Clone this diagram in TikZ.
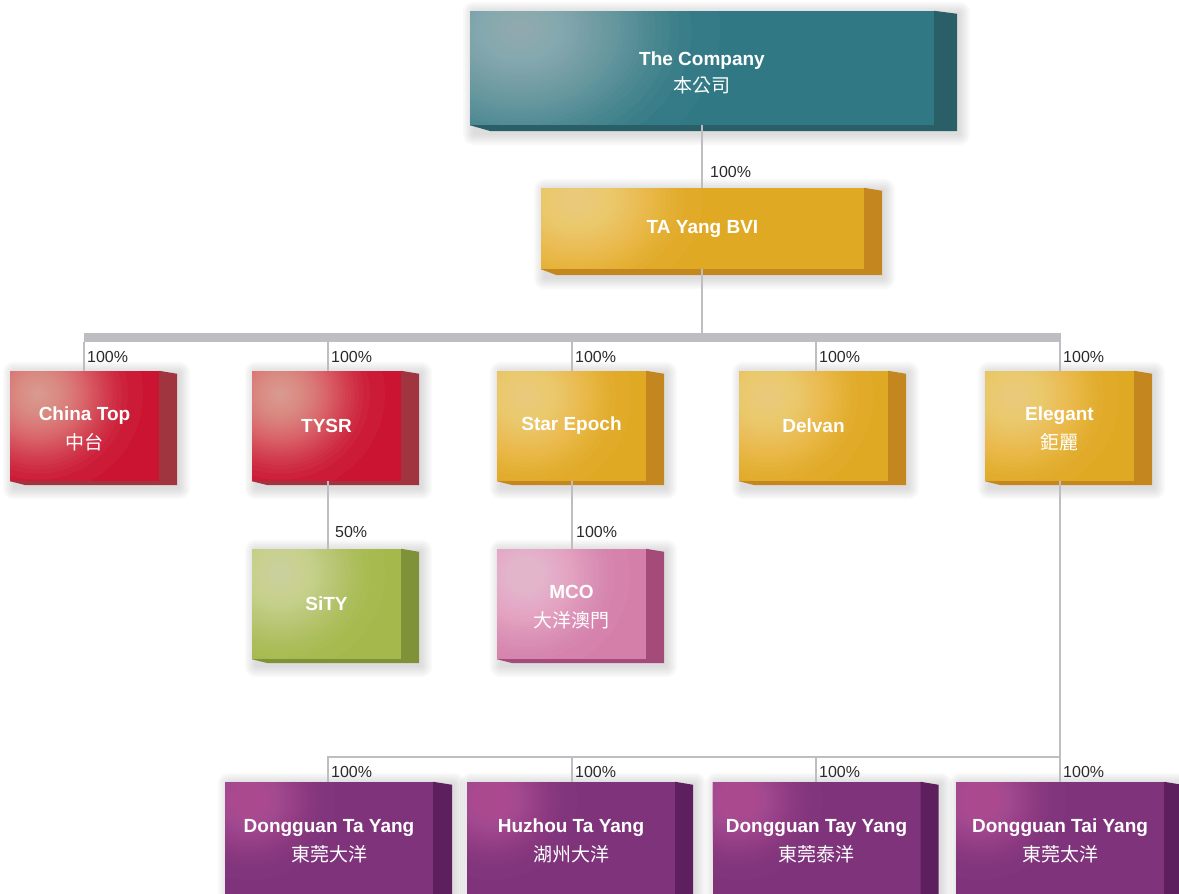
\documentclass[tikz,border=0pt]{standalone}
\usepackage{fontspec}
\setmainfont{Liberation Sans}
\newfontfamily\cjk{Noto Sans CJK TC}
\definecolor{tealF}{HTML}{2F7884}\definecolor{tealS}{HTML}{2B5F67}\definecolor{tealH}{HTML}{A3BCC1}
\definecolor{goldF}{HTML}{E0A924}\definecolor{goldS}{HTML}{C4861E}\definecolor{goldH}{HTML}{FDDC8E}
\definecolor{redF}{HTML}{CB1431}\definecolor{redS}{HTML}{A0353F}\definecolor{redH}{HTML}{ECB0A0}
\definecolor{grnF}{HTML}{A4B84C}\definecolor{grnS}{HTML}{7F9239}\definecolor{grnH}{HTML}{DCE3AE}
\definecolor{pnkF}{HTML}{D47FAA}\definecolor{pnkS}{HTML}{A44B7A}\definecolor{pnkH}{HTML}{F6C8DD}
\definecolor{purF}{HTML}{7E337B}\definecolor{purS}{HTML}{5D1F5D}\definecolor{purH}{HTML}{BE5CA2}
\definecolor{lineC}{HTML}{BDBDC2}
\definecolor{labC}{HTML}{2A2A2A}
\pgfdeclarelayer{bg}
\pgfsetlayers{bg,main}
\newcommand\up[1]{\rule{0pt}{#1pt}}
\newcommand\zh[1]{{\cjk\mdseries #1}}
\newcommand\boxsides[4]{% name, side colour, depth x, depth y
  \begin{pgfonlayer}{bg}
  \foreach \s in {1,3,5,7,9,11}{
    \fill[black,opacity=0.022,rounded corners=\s pt]
      ([xshift={4pt-\s pt},yshift={\s pt-2pt}]#1.north west) rectangle
      ([xshift={#3pt+\s pt+2pt},yshift={-#4pt-\s pt-3pt}]#1.south east);}
  \end{pgfonlayer}
  \fill[#2] (#1.north east) -- ++(#3,3) -- ([xshift=#3pt,yshift=-#4pt]#1.south east)
    -- ([xshift=#3pt-2pt,yshift=-#4pt]#1.south west) -- (#1.south west) -- (#1.south east) -- cycle;}
\begin{document}
\begin{tikzpicture}[x=1pt,y=-1pt,
  cbox/.style n args={6}{rectangle, inner sep=0pt, fill=#1, text=white, align=center,
     font=\fontsize{19}{29}\selectfont\bfseries,
     path picture={\foreach \j in {0,...,47}{\fill[#2,opacity=0.052]
        ([shift={(#3,#4)}]path picture bounding box.north west)
        ellipse [x radius={#5pt*(1-sqrt(\j/48))}, y radius={#6pt*(1-sqrt(\j/48))}];}}},
  tealbox/.style={cbox={tealF}{tealH}{50}{19}{200}{155}, minimum width=464pt, minimum height=114pt, font=\fontsize{19}{27}\selectfont\bfseries},
  goldbig/.style={cbox={goldF}{goldH}{36}{13}{125}{100}, minimum width=323pt, minimum height=81pt},
  midbox/.style={minimum width=149pt, minimum height=110pt},
  redbox/.style={cbox={redF}{redH}{28}{23}{105}{100}, midbox},
  goldbox/.style={cbox={goldF}{goldH}{29}{25}{105}{100}, midbox},
  grnbox/.style={cbox={grnF}{grnH}{28}{24}{105}{100}, midbox},
  pnkbox/.style={cbox={pnkF}{pnkH}{28}{26}{105}{100}, midbox},
  purbox/.style={cbox={purF}{purH}{25}{18}{85}{80}, minimum width=208pt, minimum height=112pt},
  conn/.style={draw=lineC, line width=1.4pt},
  pct/.style={anchor=base west, inner sep=0pt, text=labC, font=\fontsize{16}{16}\selectfont}
]
\useasboundingbox (0,0) rectangle (1179,894);
% boxes
\node[tealbox] (company) at (702,68) {\up{24}The Company\\\zh{本公司}};
\node[goldbig] (tayang) at (702.5,228.5) {TA Yang BVI};
\node[redbox] (china) at (84.5,426) {\up{20}China Top\\\zh{中台}};
\node[redbox] (tysr) at (326.5,426) {TYSR};
\node[goldbox] (star) at (571.5,426) {Star Epoch};
\node[goldbox] (delvan) at (813.5,426) {Delvan};
\node[goldbox] (elegant) at (1059.5,426) {\up{20}Elegant\\\zh{鉅麗}};
\node[grnbox] (sity) at (326.5,604) {SiTY};
\node[pnkbox] (mco) at (571.5,604) {\up{20}MCO\\\zh{大洋澳門}};
\node[purbox] (dga) at (329,838) {\up{20}Dongguan Ta Yang\\\zh{東莞大洋}};
\node[purbox] (huz) at (571,838) {\up{20}Huzhou Ta Yang\\\zh{湖州大洋}};
\node[purbox] (dgb) at (816.5,838) {\up{20}Dongguan Tay Yang\\\zh{東莞泰洋}};
\node[purbox] (dgc) at (1060,838) {\up{20}Dongguan Tai Yang\\\zh{東莞太洋}};
% side faces
\boxsides{company}{tealS}{23}{6}
\boxsides{tayang}{goldS}{18}{6}
\boxsides{china}{redS}{18}{4}
\boxsides{tysr}{redS}{18}{4}
\boxsides{star}{goldS}{18}{4}
\boxsides{delvan}{goldS}{18}{4}
\boxsides{elegant}{goldS}{18}{4}
\boxsides{sity}{grnS}{18}{4}
\boxsides{mco}{pnkS}{18}{4}
\boxsides{dga}{purS}{19}{5}
\boxsides{huz}{purS}{18}{5}
\boxsides{dgb}{purS}{18}{5}
\boxsides{dgc}{purS}{18}{5}
% bus
\fill[lineC] (84,333) rectangle (1061,342);
\coordinate (b1) at (84,342);
\coordinate (b2) at (328,342);
\coordinate (b3) at (572,342);
\coordinate (b4) at (816,342);
\coordinate (b5) at (1060,342);
\coordinate (bt) at (702,333);
% connectors
\draw[conn] (company.south) -- (company.south |- tayang.north);
\draw[conn] (bt |- tayang.south) -- (bt);
\draw[conn] (b1) -- (b1 |- china.north);
\draw[conn] (b2) -- (b2 |- tysr.north);
\draw[conn] (b3) -- (b3 |- star.north);
\draw[conn] (b4) -- (b4 |- delvan.north);
\draw[conn] (b5) -- (b5 |- elegant.north);
\draw[conn] (b2 |- tysr.south) -- (b2 |- sity.north);
\draw[conn] (b3 |- star.south) -- (b3 |- mco.north);
\coordinate (h1) at (328,757);
\coordinate (h2) at (572,757);
\coordinate (h3) at (816,757);
\coordinate (h4) at (1060,757);
\draw[conn] (h4 |- elegant.south) -- (h4 |- dgc.north);
\draw[conn] (h1 |- dga.north) -- (h1) -- (h4);
\draw[conn] (h2) -- (h2 |- huz.north);
\draw[conn] (h3) -- (h3 |- dgb.north);
% percentages
\node[pct] (p0) at (710,177) {100\%};
\node[pct] (p1) at (87,362) {100\%};
\node[pct] (p2) at (331,362) {100\%};
\node[pct] (p3) at (575,362) {100\%};
\node[pct] (p4) at (819,362) {100\%};
\node[pct] (p5) at (1063,362) {100\%};
\node[pct] (p6) at (335,537) {50\%};
\node[pct] (p7) at (576,537) {100\%};
\node[pct] (p8) at (331,777) {100\%};
\node[pct] (p9) at (575,777) {100\%};
\node[pct] (p10) at (819,777) {100\%};
\node[pct] (p11) at (1063,777) {100\%};
\end{tikzpicture}
\end{document}
